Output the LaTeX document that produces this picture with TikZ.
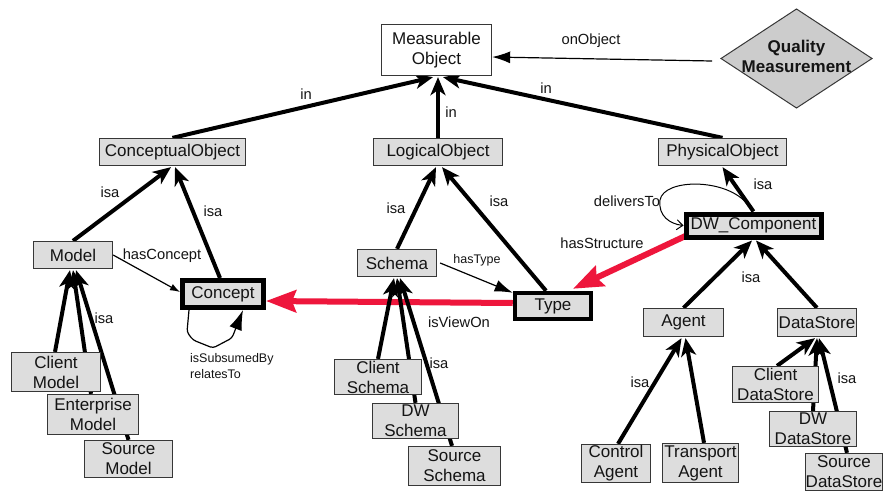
\documentclass[tikz,border=0pt]{standalone}
\usepackage{fontspec}
\setmainfont{Liberation Sans}
\usetikzlibrary{arrows.meta,calc,backgrounds}
\definecolor{boxfill}{RGB}{221,221,221}
\definecolor{qmfill}{RGB}{204,204,204}
\definecolor{boxline}{RGB}{55,55,55}
\definecolor{redarr}{RGB}{238,22,60}
\definecolor{txt}{RGB}{20,20,20}
\newcommand\bxf{\fontsize{17}{20}\selectfont}
\newcommand\lbf{\fontsize{14.7}{17}\selectfont}
\newcommand\smf{\fontsize{12.5}{15}\selectfont}
\pgfdeclarelayer{edgelayer}
\pgfsetlayers{background,edgelayer,main}
\begin{document}
\begin{tikzpicture}[x=1pt,y=-1pt,
 box/.style={draw=boxline,fill=boxfill,line width=1.3pt,inner sep=0pt,font=\bxf,align=center,text=txt},
 thickbox/.style={box,draw=black,line width=5pt},
 isa/.style={line width=4pt,-{Stealth[length=18pt,width=15pt,inset=5pt]}},
 rel/.style={line width=1.2pt,-{Latex[length=18pt,width=12pt]}},
 redrel/.style={draw=redarr,line width=6pt,-{Stealth[length=30pt,width=22pt,inset=4pt]}},
 lbl/.style={font=\lbf,inner sep=0pt,text=txt},
 sml/.style={font=\smf,inner sep=0pt,align=left,text=txt}]
\useasboundingbox (0,0) rectangle (883,490);
\begin{pgfonlayer}{background}
\fill[white] (0,0) rectangle (883,490);
\end{pgfonlayer}
\clip (0,0) rectangle (883,490);

% top
\node[box,fill=white,minimum width=110,minimum height=51] (mo) at (436.5,50) {Measurable\\Object};
\draw[draw=boxline,fill=qmfill,line width=1pt] (721,58.5) -- (796.5,9) -- (872,58.5) -- (796.5,108) -- cycle;
\node[font=\bxf\bfseries,align=center,inner sep=0pt,text=txt] (qm) at (796.5,56) {Quality\\Measurement};
\coordinate (qmw) at (712,61);

\node[box,minimum width=146,minimum height=27] (co) at (172.5,152) {ConceptualObject};
\node[box,minimum width=129,minimum height=27] (lo) at (438,152) {LogicalObject};
\node[box,minimum width=128,minimum height=27] (po) at (722.5,152) {PhysicalObject};

\node[box,minimum width=79,minimum height=27] (model) at (73,255) {Model};
\node[box,minimum width=79,minimum height=27] (schema) at (397,263) {Schema};
\node[box,minimum width=80,minimum height=28] (agent) at (683.5,322.5) {Agent};
\node[box,minimum width=79,minimum height=28] (ds) at (817,322.5) {DataStore};

\node[thickbox,minimum width=81,minimum height=27] (concept) at (223,294) {Concept};
\node[thickbox,line width=4.5pt,minimum width=76,minimum height=26] (type) at (553,306) {Type};
\node[thickbox,minimum width=135,minimum height=23] (dwc) at (753.5,225.5) {DW\_Component};

\node[box,minimum width=89,minimum height=39] (cm) at (56,372) {Client\\Model};
\node[box,minimum width=91,minimum height=40] (em) at (93,414.5) {Enterprise\\Model};
\node[box,minimum width=88,minimum height=37] (sm) at (128.5,459) {Source\\Model};

\node[box,minimum width=87,minimum height=35] (cs) at (378,377) {Client\\Schema};
\node[box,minimum width=86,minimum height=35] (dws) at (415.5,421) {DW\\Schema};
\node[box,minimum width=92,minimum height=39] (ss) at (454.5,466) {Source\\Schema};

\node[box,minimum width=69,minimum height=38] (ca) at (616,463.5) {Control\\Agent};
\node[box,minimum width=76,minimum height=39] (ta) at (700.5,463) {Transport\\Agent};

\node[box,minimum width=86,minimum height=36] (cds) at (775.5,384.5) {Client\\DataStore};
\node[box,minimum width=87,minimum height=35] (dwds) at (813,429) {DW\\DataStore};
\node[box,minimum width=76,minimum height=37] (sds) at (844,472) {Source\\DataStore};

\begin{pgfonlayer}{edgelayer}
\draw[isa] (co.north) -- ($(mo.south)+(-3.5,1)$);
\draw[isa] (lo.north) -- ($(mo.south)+(1.5,1)$);
\draw[isa] (po.north) -- ($(mo.south)+(6.5,1)$);
\draw[rel] (qmw) -- ($(mo.east)+(0,7)$);

\draw[isa] (model.north) -- ($(co.south)+(-1.5,1)$);
\draw[isa] ($(concept.north)+(-3,0)$) -- ($(co.south)+(2.5,1)$);
\draw[isa] (schema.north) -- ($(lo.south)+(-2,1)$);
\draw[isa] ($(type.north)+(-7,0)$) -- ($(lo.south)+(4,1)$);
\draw[isa] (dwc.north) -- ($(po.south)+(0,1)$);

\draw[line width=1pt,-{Straight Barb[length=6pt,width=10pt]}] (748,205) .. controls (728,178) and (664,178) .. (660,200) .. controls (658,216) and (670,224) .. (dwc.west);

\draw[redrel] ($(dwc.south west)+(3,-4)$) -- ($(type.north)+(20,-2)$);
\draw[redrel] ($(type.west)+(0,-3)$) -- ($(concept.east)+(0,7)$);

\draw[line width=1.2pt,-{Latex[length=10pt,width=7pt]}] (model.east) -- ($(concept.west)+(0,-2)$);
\draw[line width=1.2pt,rounded corners=3pt,-{Latex[length=20pt,width=13pt]}] ($(concept.south)+(-34,0)$) -- (187,332) -- (193,340) -- (213,348) -- (232,338) -- ($(concept.south)+(20,0)$);
\draw[line width=1.2pt,-{Latex[length=18pt,width=12pt]}] ($(schema.east)+(3,0)$) -- ($(type.north west)+(0,2)$);

\draw[isa] (agent.north) -- ($(dwc.south)+(-1.5,1)$);
\draw[isa] (ds.north) -- ($(dwc.south)+(2.5,1)$);
\draw[isa] ($(ca.north)+(2,0)$) -- ($(agent.south)+(-2,1)$);
\draw[isa] ($(ta.north)+(3.5,0)$) -- ($(agent.south)+(2,1)$);
\draw[isa] ($(cds.north)+(1.5,0)$) -- ($(ds.south)+(-2,1)$);
\draw[isa] (dwds.north) -- ($(ds.south)+(0,1)$);
\draw[isa] ($(sds.north)+(3,0)$) -- ($(ds.south)+(2,1)$);

\draw[isa] ($(cm.north)+(-1,0)$) -- ($(model.south)+(-3,1)$);
\draw[isa] ($(em.north)+(-2,0)$) -- ($(model.south)+(0,1)$);
\draw[isa] (sm.north) -- ($(model.south)+(3,1)$);
\draw[isa] (cs.north) -- ($(schema.south)+(-3,1)$);
\draw[isa] (dws.north) -- ($(schema.south)+(0,1)$);
\draw[isa] ($(ss.north)+(-2.5,0)$) -- ($(schema.south)+(3,1)$);
\end{pgfonlayer}

% labels
\node[lbl] (l1) at (306,94) {in};
\node[lbl] (l2) at (451,112) {in};
\node[lbl] (l3) at (546,88) {in};
\node[lbl] (l4) at (591,41) {onObject};
\node[lbl] (l5) at (110,192) {isa};
\node[lbl] (l6) at (213,211) {isa};
\node[lbl] (l7) at (396,208) {isa};
\node[lbl] (l8) at (499,201) {isa};
\node[lbl] (l9) at (763,184) {isa};
\node[lbl] (l10) at (751,277) {isa};
\node[lbl] (l11) at (640,382) {isa};
\node[lbl] (l12) at (847,378) {isa};
\node[lbl] (l13) at (104,318) {isa};
\node[lbl] (l14) at (439,363) {isa};
\node[lbl] (l15) at (162,256) {hasConcept};
\node[sml] (l16) at (477,260) {hasType};
\node[lbl] (l17) at (602,243) {hasStructure};
\node[lbl] (l18) at (627,201) {deliversTo};
\node[lbl] (l19) at (459,322) {isViewOn};
\node[sml,anchor=west] (l20) at (190,359) {isSubsumedBy};
\node[sml,anchor=west] (l21) at (190,374) {relatesTo};
\end{tikzpicture}
\end{document}
